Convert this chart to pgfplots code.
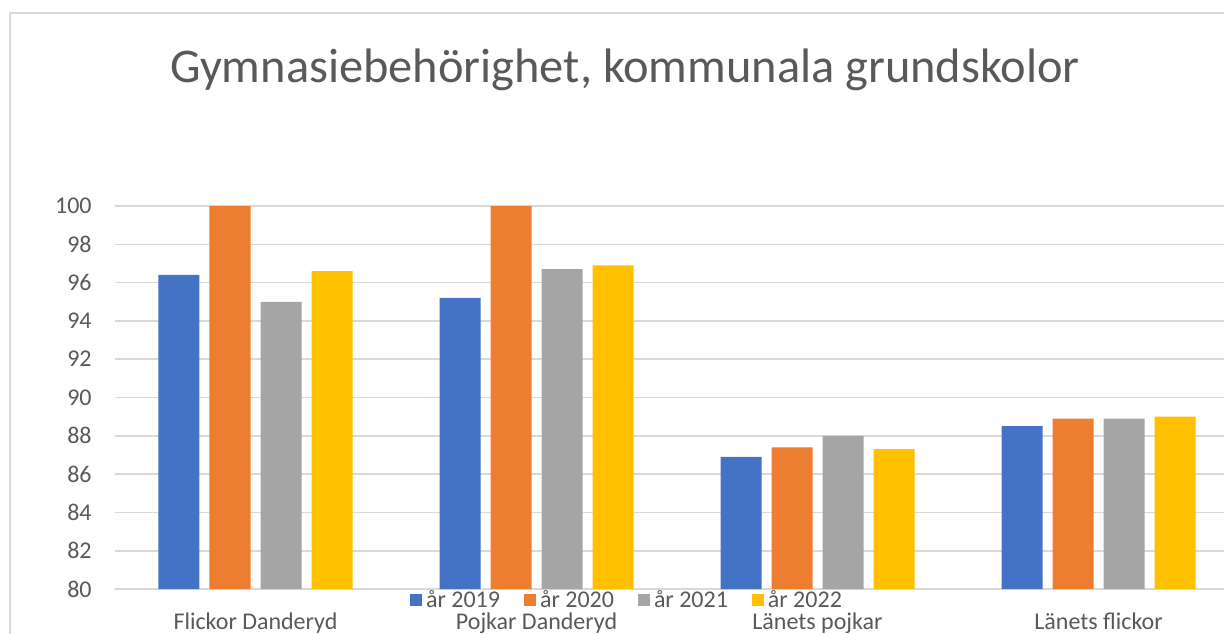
\documentclass[border=0pt]{standalone}
\usepackage{pgfplots}
\pgfplotsset{compat=1.18}
\usepackage{fontspec}
\setmainfont{Carlito}
\definecolor{cblue}{RGB}{68,114,196}
\definecolor{corange}{RGB}{237,125,49}
\definecolor{cgray}{RGB}{165,165,165}
\definecolor{cyellow}{RGB}{255,192,0}
\definecolor{gridc}{RGB}{217,217,217}
\definecolor{txtc}{RGB}{89,89,89}
\definecolor{framec}{RGB}{217,217,217}
\begin{document}
\begin{tikzpicture}
\useasboundingbox (-57.5pt,-22pt) rectangle (554.5pt,294.5pt);
\clip (-57.5pt,-22pt) rectangle (554.5pt,294.5pt);
\draw[color=framec, line width=1pt] (-52.5pt,-40pt) -- (-52.5pt,288pt) -- (600pt,288pt);
\begin{axis}[
  at={(0,0)}, anchor=south west,
  scale only axis, width=562pt, height=191.5pt,
  ybar=5pt, bar width=20.5pt,
  xmin=-0.5, xmax=3.5, ymin=80, ymax=100,
  ytick={80,82,...,100},
  xtick={0,1,2,3},
  xticklabels={Flickor Danderyd, Pojkar Danderyd, Länets pojkar, Länets flickor},
  /pgf/number format/assume math mode=true,
  ymajorgrids, grid style={gridc, line width=0.8pt},
  axis x line*=bottom, axis y line*=left,
  x axis line style={draw=gridc, line width=0.8pt},
  y axis line style={draw=none},
  major tick length=0pt,
  tick style={draw=none},
  ticklabel style={font=\fontsize{12}{14}\selectfont, text=txtc},
  yticklabel style={anchor=east, inner sep=0pt, xshift=-11.5pt},
  xticklabel style={anchor=base, inner sep=0pt, yshift=-20pt},
  title={Gymnasiebehörighet, kommunala grundskolor},
  title style={at={(0.4537,1.329)}, anchor=base, yshift=-7.5pt, font=\fontsize{24.2}{28}\selectfont, text=txtc, inner sep=0pt},
  legend columns=4,
  legend style={at={(0.4564,-0.0287)}, anchor=center, draw=none, fill=none,
    font=\fontsize{12}{14}\selectfont, text=txtc,
    /tikz/every even column/.append style={column sep=10pt}},
  legend image code/.code={\fill[#1,draw=none] (0pt,-3pt) rectangle (6pt,3pt);},
  clip=true,
]
\addplot[fill=cblue, draw=none] coordinates {(0,96.4) (1,95.2) (2,86.9) (3,88.5)};
\addplot[fill=corange, draw=none] coordinates {(0,100) (1,100) (2,87.4) (3,88.9)};
\addplot[fill=cgray, draw=none] coordinates {(0,95.0) (1,96.7) (2,88.0) (3,88.9)};
\addplot[fill=cyellow, draw=none] coordinates {(0,96.6) (1,96.9) (2,87.3) (3,89.0)};
\legend{år 2019, år 2020, år 2021, år 2022}
\end{axis}
\end{tikzpicture}
\end{document}
